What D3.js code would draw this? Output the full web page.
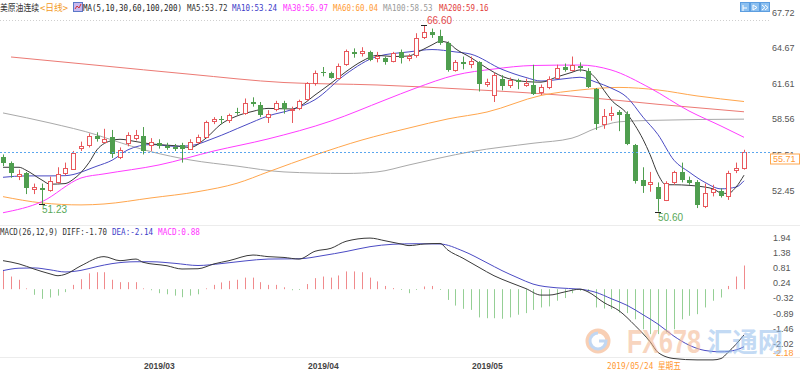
<!DOCTYPE html>
<html>
<head>
<meta charset="utf-8">
<script src="https://cdn.jsdelivr.net/npm/d3@7"></script>
<style>
  body { margin: 0; background: #fff; }
  svg { display: block; }
  .mono { font-family: "DejaVu Sans Mono", "Noto Sans CJK SC", monospace; font-size: 9.5px; }
  .axis { font-family: "Liberation Sans", Arial, sans-serif; font-size: 9px; fill: #555; }
</style>
</head>
<body>
<svg id="chart" width="800" height="376"></svg>
<script>
// trading days shown (US crude continuous, daily)
const dates = [
  "2019-02-04","2019-02-05","2019-02-06","2019-02-07","2019-02-08","2019-02-11","2019-02-12","2019-02-13","2019-02-14","2019-02-15",
  "2019-02-19","2019-02-20","2019-02-21","2019-02-22","2019-02-25","2019-02-26","2019-02-27","2019-02-28",
  "2019-03-01","2019-03-04","2019-03-05","2019-03-06","2019-03-07","2019-03-08","2019-03-11","2019-03-12","2019-03-13","2019-03-14",
  "2019-03-15","2019-03-18","2019-03-19","2019-03-20","2019-03-21","2019-03-22","2019-03-25","2019-03-26","2019-03-27","2019-03-28","2019-03-29",
  "2019-04-01","2019-04-02","2019-04-03","2019-04-04","2019-04-05","2019-04-08","2019-04-09","2019-04-10","2019-04-11","2019-04-12",
  "2019-04-15","2019-04-16","2019-04-17","2019-04-18","2019-04-22","2019-04-23","2019-04-24","2019-04-25","2019-04-26","2019-04-29","2019-04-30",
  "2019-05-01","2019-05-02","2019-05-03","2019-05-06","2019-05-07","2019-05-08","2019-05-09","2019-05-10","2019-05-13","2019-05-14",
  "2019-05-15","2019-05-16","2019-05-17","2019-05-20","2019-05-21","2019-05-22","2019-05-23","2019-05-24","2019-05-28","2019-05-29",
  "2019-05-30","2019-05-31","2019-06-03","2019-06-04","2019-06-05","2019-06-06","2019-06-07","2019-06-10","2019-06-11","2019-06-12",
  "2019-06-13","2019-06-14","2019-06-17","2019-06-18","2019-06-19","2019-06-20"
];

const opens = [55.25,54.8,53.6,53.9,52.55,52.6,52.4,53.2,53.95,54.3,56.05,56.3,57.1,56.6,57.0,55.3,56.5,56.9,
  57.05,56.3,56.45,56.2,56.1,56.3,56.0,56.6,57.0,58.3,58.5,58.4,59.15,59.1,60.0,59.75,58.7,59.4,59.95,59.3,59.5,
  60.2,61.6,62.55,62.5,62.1,63.2,64.3,64.15,64.3,63.8,63.8,63.55,64.25,63.75,64.0,65.55,66.0,65.7,65.1,62.75,63.4,
  63.2,63.4,61.55,60.6,62.0,61.45,61.9,61.5,61.5,60.85,61.3,62.1,63.0,62.8,63.1,62.7,61.1,58.1,58.9,59.1,
  59.0,56.3,53.3,52.95,52.7,51.6,53.1,54.0,53.35,53.1,51.1,52.2,52.4,51.9,54.2,54.3];
const highs = [55.5,54.9,54.2,54.0,53.0,53.0,53.6,54.4,54.8,55.8,56.6,57.3,57.4,57.7,57.6,56.1,57.4,57.6,
  57.85,56.9,56.8,56.5,56.4,56.5,56.8,57.2,58.4,58.7,58.8,59.0,59.5,60.3,60.4,60.0,59.3,60.1,60.1,59.6,60.2,
  61.7,62.7,63.0,62.6,63.3,64.5,64.6,64.7,64.4,64.3,63.9,64.3,64.5,64.1,65.9,66.6,66.3,66.2,65.2,63.6,63.9,
  63.9,63.5,62.0,62.5,62.3,62.1,62.0,62.0,63.2,61.5,62.2,63.2,63.3,63.9,63.4,62.9,61.2,59.4,59.6,59.3,
  59.2,56.4,54.4,54.0,53.1,53.2,54.1,54.8,53.6,53.3,53.0,52.9,52.6,54.1,54.8,55.9];
const lows = [54.5,53.5,53.3,52.1,52.1,51.23,52.3,53.0,53.7,54.2,55.8,56.1,56.6,56.5,55.2,55.1,56.2,56.7,
  55.5,55.8,56.0,55.9,55.8,54.8,55.9,56.4,56.9,58.1,58.1,58.2,58.9,58.9,59.6,58.7,58.2,59.2,59.0,58.2,59.3,
  60.1,61.4,62.2,62.0,62.0,63.1,63.8,63.9,63.5,63.4,63.2,63.4,63.3,63.5,63.8,65.4,65.5,64.9,62.6,62.6,62.8,
  62.9,60.9,61.3,60.0,61.0,61.2,61.1,61.3,60.6,60.6,61.1,62.0,62.6,62.6,62.6,61.2,57.6,57.7,58.4,57.5,
  56.3,53.0,52.2,52.3,50.6,51.5,52.9,53.1,52.9,50.9,50.9,51.9,51.8,51.6,53.9,54.2];
const closes = [54.7,53.95,53.8,52.6,52.75,52.45,53.2,53.85,54.35,55.65,56.25,57.05,56.85,56.85,55.5,55.9,57.2,57.2,
  55.75,56.6,56.15,56.0,55.95,55.95,56.6,57.0,58.3,58.5,58.4,58.85,59.05,59.95,59.85,58.9,59.0,59.95,59.4,59.4,60.1,
  61.6,62.5,62.45,62.1,63.1,64.35,64.1,64.35,63.65,63.95,63.45,64.2,63.7,63.95,65.5,66.0,65.75,65.1,62.8,63.4,63.2,
  63.5,61.5,61.75,62.3,61.4,61.9,61.7,61.65,60.75,61.25,62.0,62.95,62.7,63.2,62.9,61.35,58.1,58.8,59.05,58.85,
  56.4,53.2,52.8,53.15,51.65,53.05,54.0,53.3,53.1,51.1,52.2,52.5,51.95,53.9,54.35,55.71];

// moving averages: [day index, value]
const ma5 = [[0,54.4],[2,54.4],[3,54.15],[5,53.3],[6,52.95],[8,53.0],[9,53.35],[11,54.8],[12,55.9],[14,56.7],[15,56.8],
  [17,56.6],[19,56.4],[22,56.25],[24,56.1],[26,56.9],[28,58.1],[30,58.8],[32,59.2],[34,59.45],[37,59.4],[38,59.6],
  [40,60.6],[42,61.6],[44,62.6],[46,63.5],[48,64.0],[50,63.9],[52,63.95],[53,64.2],[55,64.9],[56,65.2],[57,65.1],
  [58,64.6],[60,63.8],[62,62.9],[64,62.2],[67,61.75],[69,61.7],[71,62.15],[73,62.55],[74,62.75],[75,62.6],[76,62.0],
  [77,61.0],[78,60.2],[80,59.0],[81,58.0],[82,56.8],[83,55.5],[84,53.8],[85,52.9],[86,52.9],[88,52.85],[90,52.7],
  [91,52.55],[92,52.2],[93,52.15],[94,52.7],[95,53.72]];
const ma10 = [[0,53.54],[3,53.66],[6,53.66],[8,53.68],[12,54.5],[14,55.0],[16,55.9],[19,56.35],[22,56.2],[24,56.25],
  [27,56.9],[31,58.0],[34,58.8],[37,59.35],[40,60.2],[44,62.4],[48,63.9],[52,64.3],[55,64.5],[58,64.3],[60,64.1],
  [64,62.8],[67,62.1],[69,61.8],[72,62.0],[74,62.12],[76,61.7],[78,61.2],[80,60.4],[82,58.7],[84,57.2],[86,55.0],
  [88,54.0],[90,53.1],[92,52.55],[94,52.7],[95,53.24]];
const ma30 = [[0,50.5],[5,51.45],[10,53.48],[13,53.83],[20,54.6],[27,55.8],[34,56.83],[42,58.37],[49,60.17],[53,61.2],
  [58,62.3],[63,62.83],[68,63.13],[74,63.17],[78,62.75],[83,61.2],[88,59.23],[92,57.94],[95,56.97]];
const ma60 = [[0,51.88],[5,51.34],[10,51.17],[13,51.25],[19,51.77],[25,52.31],[30,53.03],[34,54.0],[40,55.45],[46,56.74],
  [52,57.77],[57,58.55],[62,59.14],[69,60.56],[74,61.03],[79,61.25],[84,61.03],[89,60.52],[95,60.04]];
const ma100 = [[0,59.06],[6,58.2],[12,57.17],[14,56.74],[19,55.74],[24,55.03],[30,54.5],[36,54.0],[44,53.87],[48,54.0],
  [52,54.6],[56,55.2],[60,55.74],[68,56.46],[73,56.9],[76,57.75],[79,58.3],[83,58.42],[95,58.53]];
const ma200 = [[1,63.86],[12,63.15],[24,62.38],[36,61.67],[48,61.46],[60,61.07],[72,60.56],[84,59.8],[95,59.16]];

// MACD(26,12,9)
const diffLine = [[0,1.06],[2,0.94],[4,0.75],[6,0.57],[7,0.50],[8,0.55],[10,0.87],[13,1.21],[15,1.06],[17,1.12],[18,1.0],
  [21,0.87],[23,0.75],[25,0.76],[27,0.94],[29,1.06],[32,1.27],[34,1.21],[36,1.18],[38,1.12],[40,1.41],[42,1.52],
  [44,1.78],[47,1.90],[49,1.80],[51,1.68],[52,1.62],[54,1.68],[56,1.70],[57,1.45],[59,1.15],[61,0.81],[63,0.50],
  [65,0.25],[67,0.02],[69,-0.22],[70,-0.22],[72,-0.10],[74,0.0],[75,-0.10],[77,-0.50],[79,-0.80],[81,-1.35],
  [83,-1.95],[84,-2.35],[86,-2.58],[89,-2.63],[91,-2.63],[92,-2.58],[93,-2.35],[94,-2.05],[95,-1.70]];
const deaLine = [[0,0.69],[2,0.78],[4,0.79],[6,0.72],[8,0.64],[10,0.70],[12,0.84],[14,0.95],[17,1.02],[19,1.02],
  [22,0.96],[25,0.88],[28,0.95],[31,1.05],[34,1.12],[38,1.13],[41,1.25],[44,1.40],[47,1.58],[50,1.67],[53,1.69],
  [56,1.68],[59,1.42],[62,0.98],[64,0.69],[66,0.42],[68,0.19],[71,0.05],[74,0.0],[76,-0.12],[78,-0.35],[80,-0.60],
  [82,-0.95],[84,-1.30],[86,-1.75],[88,-2.08],[90,-2.28],[92,-2.33],[94,-2.26],[95,-2.14]];
const macdHist = [0.72,0.47,0.35,0.03,-0.21,-0.36,-0.31,-0.24,-0.11,0.16,0.37,0.59,0.63,0.63,0.35,0.26,0.26,0.26,
  0.03,-0.04,-0.15,-0.19,-0.24,-0.30,-0.24,-0.19,0.03,0.16,0.25,0.31,0.35,0.43,0.43,0.26,0.16,0.16,0.07,-0.04,-0.03,
  0.19,0.41,0.47,0.43,0.51,0.66,0.66,0.63,0.43,0.29,0.12,0.04,-0.03,-0.15,-0.03,0.10,0.12,-0.03,-0.40,-0.61,-0.73,
  -0.77,-1.05,-1.08,-1.08,-1.10,-1.05,-0.95,-0.89,-0.77,-0.68,-0.64,-0.43,-0.33,-0.15,-0.06,-0.09,-0.68,-0.72,-0.74,-0.87,
  -0.89,-1.12,-1.49,-1.67,-1.67,-1.61,-1.49,-1.12,-0.99,-0.93,-0.68,-0.43,-0.31,0.12,0.47,0.88];

const priceTicks = [67.72, 64.67, 61.61, 58.56, 55.51, 52.45];
const macdTicks = [1.94, 1.38, 0.81, 0.24, -0.32, -0.89, -1.46, -2.02];
const monthTicks = [["2019-03-01", "2019/03"], ["2019-04-01", "2019/04"], ["2019-05-01", "2019/05"]];
const extremes = [[54, 66.60, "high"], [5, 51.23, "low"], [84, 50.60, "low"]];
const lastPrice = 55.71;

const UP = "#e8585c", DOWN = "#4f9e4f";

function drawChart() {
    const svg = d3.select("#chart");

    const x = d3.scaleBand().domain(dates).range([-0.9, 747.9]).paddingInner(0.36).paddingOuter(0.18);
    const cx = d => Math.round(x(d) + x.bandwidth() / 2);
    const yP = d3.scaleLinear().domain([52.45, 67.72]).range([190, 12]);
    const yM = d3.scaleLinear().domain([-2.02, 1.94]).range([343.5, 237]);

    // small helper for the fixed-width legend text
    function mono(g, px, py, str, color, w) {
        return g.append("text").attr("class", "mono").attr("x", px).attr("y", py)
            .attr("fill", color).attr("textLength", w).attr("lengthAdjust", "spacingAndGlyphs").text(str);
    }

    // frame lines
    svg.append("line").attr("x1", 0).attr("x2", 770).attr("y1", 20.5).attr("y2", 20.5)
        .attr("stroke", "#cfcfcf").attr("stroke-dasharray", "1,2");
    svg.append("line").attr("x1", 0).attr("x2", 800).attr("y1", 225.5).attr("y2", 225.5).attr("stroke", "#ececec");
    svg.append("line").attr("x1", 0).attr("x2", 800).attr("y1", 357.5).attr("y2", 357.5).attr("stroke", "#ececec");

    // ---- price panel ----
    const main = svg.append("g");

    // moving averages
    const maLine = d3.line().x(d => cx(dates[d[0]])).y(d => yP(d[1])).curve(d3.curveMonotoneX);
    const maSeries = [[ma200, "#ec7a74"], [ma100, "#a9a9a9"], [ma60, "#ffa64d"], [ma30, "#ff3cff"], [ma10, "#4b4bc4"], [ma5, "#3a3a3a"]];
    maSeries.forEach(([data, color]) => {
        main.append("path").datum(data).attr("d", maLine)
            .attr("fill", "none").attr("stroke", color).attr("stroke-width", 1);
    });

    // candles
    const candles = main.selectAll("g.candle").data(dates).enter().append("g").attr("class", "candle");
    candles.append("line")
        .attr("x1", d => cx(d) + 0.5).attr("x2", d => cx(d) + 0.5)
        .attr("y1", (d, i) => yP(highs[i])).attr("y2", (d, i) => yP(lows[i]))
        .attr("stroke", (d, i) => closes[i] >= opens[i] ? UP : DOWN);
    candles.append("rect")
        .attr("x", (d, i) => closes[i] >= opens[i] ? cx(d) - 1.5 : cx(d) - 2)
        .attr("width", (d, i) => closes[i] >= opens[i] ? 4 : 5)
        .attr("y", (d, i) => {
            const top = yP(Math.max(opens[i], closes[i]));
            return closes[i] >= opens[i] ? Math.round(top) + 0.5 : Math.round(top);
        })
        .attr("height", (d, i) => Math.max(1, Math.round(yP(Math.min(opens[i], closes[i])) - yP(Math.max(opens[i], closes[i])))))
        .attr("fill", (d, i) => closes[i] >= opens[i] ? "#fff" : DOWN)
        .attr("stroke", (d, i) => closes[i] >= opens[i] ? UP : "none");

    // high / low markers
    extremes.forEach(([i, v, kind]) => {
        const px = cx(dates[i]), py = Math.round(yP(v));
        main.append("line").attr("x1", px - 3).attr("x2", px + 3).attr("y1", py + 0.5).attr("y2", py + 0.5)
            .attr("stroke", "#222");
        main.append("text").attr("x", kind === "high" ? px + 3 : px).attr("y", kind === "high" ? py - 1 : py + 9)
            .attr("font-family", "Liberation Sans, Arial, sans-serif").attr("font-size", "10px")
            .attr("fill", kind === "high" ? "#e4484a" : "#58a858").text(v.toFixed(2));
    });

    // last price line
    const yl = Math.round(yP(lastPrice)) + 0.5;
    svg.append("line").attr("x1", 0).attr("x2", 770).attr("y1", yl).attr("y2", yl)
        .attr("stroke", "#5aa6ee").attr("stroke-dasharray", "2,2");

    // price axis labels
    svg.selectAll("text.ptick").data(priceTicks).enter().append("text")
        .attr("class", "axis ptick").attr("x", 772).attr("y", d => yP(d) + 3.5).text(d => d.toFixed(2));
    svg.append("rect").attr("x", 770.5).attr("y", yl + 1.5).attr("width", 29).attr("height", 10)
        .attr("fill", "#fff").attr("stroke", "#ffa64d");
    svg.append("text").attr("class", "axis").attr("x", 773).attr("y", yl + 9.5)
        .style("fill", "#ff9933").text(lastPrice.toFixed(2));

    // ---- MACD panel ----
    const low = svg.append("g");
    low.selectAll("line.bar").data(macdHist).enter().append("line").attr("class", "bar")
        .attr("x1", (d, i) => cx(dates[i]) + 0.5).attr("x2", (d, i) => cx(dates[i]) + 0.5)
        .attr("y1", yM(0)).attr("y2", d => yM(d))
        .attr("stroke", d => d >= 0 ? "#f08a8c" : "#95cf95");
    const mLine = d3.line().x(d => cx(dates[d[0]])).y(d => yM(d[1])).curve(d3.curveMonotoneX);
    low.append("path").datum(deaLine).attr("d", mLine).attr("fill", "none").attr("stroke", "#4b4bc4");
    low.append("path").datum(diffLine).attr("d", mLine).attr("fill", "none").attr("stroke", "#3a3a3a");

    svg.selectAll("text.mtick").data(macdTicks).enter().append("text")
        .attr("class", "axis mtick").attr("x", 773).attr("y", d => yM(d) + 3.5).text(d => d.toFixed(2));
    svg.append("text").attr("class", "axis").attr("x", 773).attr("y", 356).style("fill", "#ff9933").text("-2.18");

    // month labels
    svg.selectAll("text.month").data(monthTicks).enter().append("text")
        .attr("x", d => cx(d[0]) + 1).attr("y", 369)
        .attr("font-family", "Liberation Sans, Arial, sans-serif").attr("font-size", "8.5px").attr("font-weight", "bold")
        .attr("fill", "#444").text(d => d[1]);
    mono(svg, cx("2019-05-24") + 3, 369, "2019/05/24 星期五", "#ff9933", 74);

    // ---- legends ----
    const leg = svg.append("g");
    mono(leg, 0, 11, "美原油连续", "#333", 39);
    mono(leg, 40, 11, "<日线>", "#f39a1e", 28);
    leg.append("rect").attr("x", 73.5).attr("y", 2.5).attr("width", 9).attr("height", 9)
        .attr("fill", "#c9b8ee").attr("stroke", "#5a78c8");
    leg.append("path").attr("d", "M75,9 L77,6 L79,8 L81,4").attr("fill", "none").attr("stroke", "#d0303a");
    mono(leg, 83, 11, "MA(5,10,30,60,100,200)", "#222", 99);
    mono(leg, 187, 11, "MA5:53.72", "#333", 40.5);
    mono(leg, 232, 11, "MA10:53.24", "#3c3cc8", 45);
    mono(leg, 283, 11, "MA30:56.97", "#ff33ff", 45);
    mono(leg, 333, 11, "MA60:60.04", "#ff9a33", 45);
    mono(leg, 383, 11, "MA100:58.53", "#999", 49.5);
    mono(leg, 439, 11, "MA200:59.16", "#e23a3a", 49.5);

    mono(leg, 0, 235, "MACD(26,12,9) DIFF:-1.70", "#333", 107);
    mono(leg, 112, 235, "DEA:-2.14", "#3c3cc8", 41);
    mono(leg, 158, 235, "MACD:0.88", "#ff33ff", 42);

    // toolbar buttons top right
    [740, 750, 760].forEach((bx, k) => {
        leg.append("rect").attr("x", bx + 0.5).attr("y", 2.5).attr("width", 9).attr("height", 9)
            .attr("fill", "#8cc0f0").attr("stroke", "#5d9ee0");
        leg.append("path").attr("d", k === 0 ? `M${bx + 3},5 v6 M${bx + 3},8 h4` :
            k === 1 ? `M${bx + 3},5 l4,2.5 l-4,2.5 z` : `M${bx + 2},5 l3,2.5 l-3,2.5 M${bx + 5},5 l3,2.5 l-3,2.5`)
            .attr("fill", "none").attr("stroke", "#fff");
    });

    // watermark
    const wm = svg.append("g").attr("opacity", 0.55);
    wm.append("circle").attr("cx", 598).attr("cy", 341).attr("r", 10).attr("fill", "none")
        .attr("stroke", "#f3a878").attr("stroke-width", 5);
    wm.append("path").attr("d", "M598,333 a8,8 0 1 0 8,8 h-7").attr("fill", "none")
        .attr("stroke", "#8fb8ea").attr("stroke-width", 3);
    wm.append("text").attr("x", 627).attr("y", 353).attr("font-family", "Liberation Sans, Arial, sans-serif")
        .attr("font-size", "34px").attr("font-weight", "bold").attr("fill", "#f3b48c")
        .attr("textLength", 74).attr("lengthAdjust", "spacingAndGlyphs").text("FX678");
    wm.append("text").attr("x", 707).attr("y", 352).attr("font-family", "Noto Sans CJK SC, sans-serif")
        .attr("font-size", "27px").attr("font-weight", "bold").attr("fill", "#93bdec")
        .attr("textLength", 76).attr("lengthAdjust", "spacingAndGlyphs").text("汇通网");
}

drawChart();
</script>
</body>
</html>
